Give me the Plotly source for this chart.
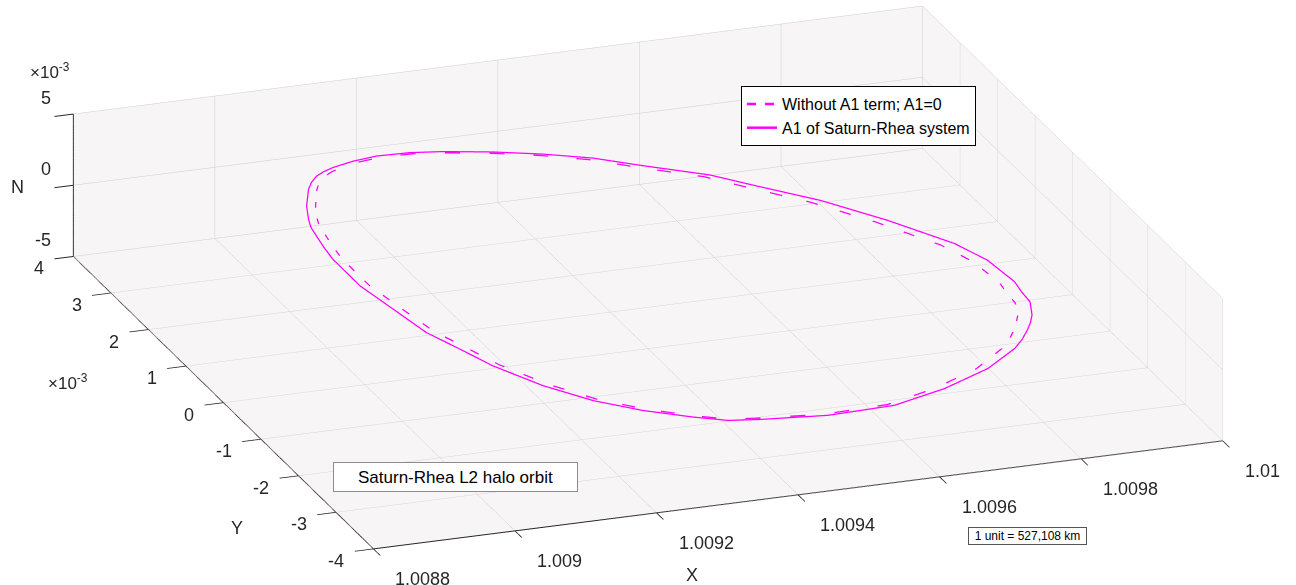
import plotly.graph_objects as go

# Halo orbit samples: X in canonical units, Y and N in units of 1e-3
x_a1 = [1.009309, 1.009368, 1.009426, 1.009481, 1.009532, 1.009601, 1.009642, 1.009703,
        1.009759, 1.009811, 1.009830, 1.009836, 1.009832, 1.009830, 1.009823, 1.009816,
        1.009805, 1.009793, 1.009774, 1.009754, 1.009697, 1.009620, 1.009539, 1.009446,
        1.009361, 1.009320, 1.009282, 1.009230, 1.009182, 1.009140, 1.009104, 1.009085,
        1.009065, 1.009054, 1.009043, 1.009043, 1.009047, 1.009052, 1.009056, 1.009063,
        1.009077, 1.009100, 1.009112, 1.009126, 1.009141, 1.009157, 1.009189, 1.009223,
        1.009267, 1.009309]
y_a1 = [3.742, 3.537, 3.289, 3.000, 2.625, 2.146, 1.722, 1.114,
        0.386, -0.419, -0.937, -1.546, -1.803, -2.070, -2.232, -2.390,
        -2.557, -2.708, -2.918, -3.100, -3.461, -3.759, -3.953, -3.924,
        -3.755, -3.650, -3.434, -3.085, -2.656, -2.111, -1.450, -0.930,
        -0.411, 0.262, 0.935, 1.662, 1.979, 2.270, 2.494, 2.692,
        3.008, 3.391, 3.541, 3.668, 3.748, 3.806, 3.874, 3.900,
        3.849, 3.742]
n_a1 = [-0.190, -0.066, 0.054, 0.169, 0.275, 0.419, 0.505, 0.632,
        0.748, 0.857, 0.897, 0.909, 0.899, 0.895, 0.882, 0.866,
        0.845, 0.819, 0.778, 0.737, 0.618, 0.459, 0.291, 0.097,
        -0.082, -0.167, -0.246, -0.355, -0.455, -0.542, -0.616, -0.656,
        -0.697, -0.721, -0.745, -0.743, -0.736, -0.725, -0.716, -0.703,
        -0.673, -0.626, -0.600, -0.571, -0.540, -0.507, -0.440, -0.369,
        -0.276, -0.190]

x_noa1 = [1.009310, 1.009367, 1.009423, 1.009475, 1.009524, 1.009591, 1.009630, 1.009688,
          1.009742, 1.009792, 1.009810, 1.009816, 1.009812, 1.009810, 1.009804, 1.009797,
          1.009786, 1.009775, 1.009757, 1.009737, 1.009683, 1.009609, 1.009531, 1.009442,
          1.009360, 1.009321, 1.009284, 1.009234, 1.009188, 1.009148, 1.009113, 1.009095,
          1.009076, 1.009065, 1.009055, 1.009055, 1.009059, 1.009064, 1.009067, 1.009074,
          1.009088, 1.009110, 1.009121, 1.009135, 1.009149, 1.009164, 1.009195, 1.009228,
          1.009270, 1.009310]
y_noa1 = [3.705, 3.502, 3.256, 2.970, 2.599, 2.125, 1.705, 1.103,
          0.382, -0.415, -0.928, -1.531, -1.785, -2.049, -2.210, -2.366,
          -2.531, -2.681, -2.889, -3.069, -3.426, -3.721, -3.913, -3.885,
          -3.717, -3.614, -3.400, -3.054, -2.629, -2.090, -1.436, -0.921,
          -0.407, 0.259, 0.926, 1.645, 1.959, 2.247, 2.469, 2.665,
          2.978, 3.357, 3.506, 3.631, 3.711, 3.768, 3.835, 3.861,
          3.811, 3.705]
n_noa1 = n_a1

x_range = [1.0088, 1.01]
y_range = [-4, 4]
n_range = [-5, 5]
x_ticks = [1.0088, 1.009, 1.0092, 1.0094, 1.0096, 1.0098, 1.01]
x_tick_text = ["1.0088", "1.009", "1.0092", "1.0094", "1.0096", "1.0098", "1.01"]
y_ticks = [-4, -3, -2, -1, 0, 1, 2, 3, 4]
y_tick_text = ["-4", "-3", "-2", "-1", "0", "1", "2", "3", "4"]
n_ticks = [-5, 0, 5]
n_tick_text = ["-5", "0", "5"]

MAGENTA = "#ff00ff"
FONT = "Liberation Sans, Arial, sans-serif"
PANE = "rgb(247,245,245)"
GRID = "rgb(206,204,204)"
INK = "#262626"

fig = go.Figure()
fig.add_trace(go.Scatter3d(
    x=x_noa1, y=y_noa1, z=n_noa1, mode="lines",
    line=dict(color=MAGENTA, width=2.5, dash="dash"),
    name="Without A1 term; A1=0"))
fig.add_trace(go.Scatter3d(
    x=x_a1, y=y_a1, z=n_a1, mode="lines",
    line=dict(color=MAGENTA, width=2.5),
    name="A1 of Saturn-Rhea system"))


def axis(rng, vals):
    return dict(
        title=dict(text=""),
        range=rng, autorange=False, tickvals=vals, showticklabels=False,
        showbackground=True, backgroundcolor=PANE,
        gridcolor=GRID, gridwidth=1,
        showline=True, linecolor=INK, linewidth=2,
        ticks="outside", ticklen=20, tickcolor=INK, tickwidth=2,
        zeroline=False, showspikes=False,
    )


# tick labels pinned to the axis edges in data coordinates
TICK_FONT = dict(family=FONT, size=18, color=INK)
scene_labels = []
for v, t in zip(x_ticks, x_tick_text):
    scene_labels.append(dict(x=v, y=y_range[0], z=n_range[0], text=t, showarrow=False,
                             xanchor="left", yanchor="middle", xshift=20, yshift=-30,
                             font=TICK_FONT))
for v, t in zip(y_ticks, y_tick_text):
    scene_labels.append(dict(x=x_range[0], y=v, z=n_range[0], text=t, showarrow=False,
                             xanchor="right", yanchor="middle", xshift=-27, yshift=-12,
                             font=TICK_FONT))
for v, t in zip(n_ticks, n_tick_text):
    scene_labels.append(dict(x=x_range[0], y=y_range[1], z=v, text=t, showarrow=False,
                             xanchor="right", yanchor="middle", xshift=-20, yshift=16,
                             font=TICK_FONT))

box_scale = 3.087
look_at = dict(x=0, y=0, z=-0.055)
view_dir = dict(x=-0.636, y=-1.76, z=0.704)


def paper_text(text, px, py, size, **extra):
    return dict(text=text, x=px / 1296, y=1 - py / 585, xref="paper", yref="paper",
                xanchor="center", yanchor="middle", showarrow=False,
                font=dict(family=FONT, size=size, color=extra.pop("color", INK)),
                **extra)


fig.update_layout(
    width=1296, height=585,
    margin=dict(l=0, r=0, t=0, b=0),
    paper_bgcolor="white",
    font=dict(family=FONT, color=INK),
    scene=dict(
        domain=dict(x=[0, 1], y=[0, 1]),
        xaxis=axis(x_range, x_ticks),
        yaxis=axis(y_range, y_ticks),
        zaxis=axis(n_range, n_ticks),
        aspectmode="manual",
        aspectratio=dict(x=1 * box_scale, y=0.978 * box_scale, z=0.1685 * box_scale),
        camera=dict(
            projection=dict(type="orthographic"),
            eye=dict(x=look_at["x"] + view_dir["x"], y=look_at["y"] + view_dir["y"],
                     z=look_at["z"] + view_dir["z"]),
            up=dict(x=0, y=0, z=1),
            center=look_at,
        ),
        bgcolor="white",
        annotations=scene_labels,
    ),
    showlegend=True,
    legend=dict(
        x=741 / 1296, y=1 - 86 / 585, xanchor="left", yanchor="top",
        bgcolor="white", bordercolor="black", borderwidth=1,
        font=dict(family=FONT, size=16, color="black"),
        itemwidth=30, tracegroupgap=0,
    ),
    annotations=[
        paper_text("Saturn-Rhea L2 halo orbit", 455.5, 477, 17, color="black",
                   bgcolor="white", bordercolor="#8c8c8c", borderwidth=1,
                   width=243, height=28, borderpad=0),
        paper_text("1 unit = 527,108 km", 1027.5, 536, 12, color="black",
                   bgcolor="white", bordercolor="#555555", borderwidth=1,
                   width=117, height=16, borderpad=0),
        paper_text("×10<sup>-3</sup>", 50, 71, 17),
        paper_text("×10<sup>-3</sup>", 68, 382, 17),
        paper_text("X", 692, 575, 18),
        paper_text("Y", 237, 528, 18),
        paper_text("N", 17, 187, 18),
    ],
)

fig.write_html("out.html", config=dict(displayModeBar=False))
